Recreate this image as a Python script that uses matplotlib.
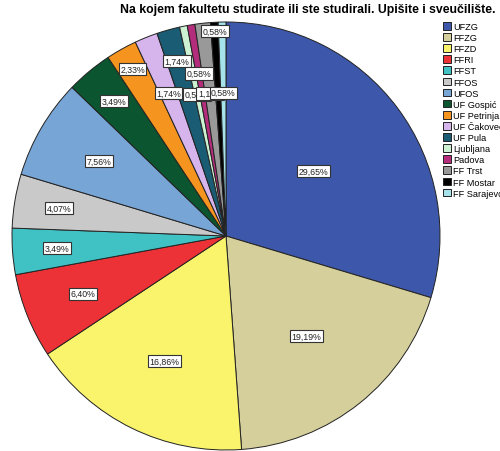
import numpy as np
import matplotlib
matplotlib.use("Agg")
import matplotlib.pyplot as plt

plt.rcParams['font.family'] = ['Liberation Sans', 'DejaVu Sans']

title = "Na kojem fakultetu studirate ili ste studirali. Upišite i sveučilište."
categories = ["UFZG", "FFZG", "FFZD", "FFRI", "FFST", "FFOS", "UFOS",
              "UF Gospić", "UF Petrinja", "UF Čakovec", "UF Pula",
              "Ljubljana", "Padova", "FF Trst", "FF Mostar", "FF Sarajevo"]
percents = [29.65, 19.19, 16.86, 6.40, 3.49, 4.07, 7.56,
            3.49, 2.33, 1.74, 1.74,
            0.58, 0.58, 1.16, 0.58, 0.58]

colors = ["#3D57AA", "#D5CF9C", "#F9F46C", "#EC3237", "#40C2C4", "#C9C9C9",
          "#77A5D6", "#0B5530", "#F5941F", "#D6B4EC", "#1A5C73",
          "#CDF2D3", "#B42D7C", "#999999", "#000000", "#A6E2EA"]
# label radius (fraction of pie radius) per slice - styling only
label_r = [0.51, 0.60, 0.65, 0.72, 0.79, 0.79, 0.69,
           0.82, 0.895, 0.72, 0.85,
           0.675, 0.77, 0.67, 0.96, 0.67]

W, H = 500, 452
fig = plt.figure(figsize=(W / 100, H / 100), dpi=100)
cx, cy, R = 226, 237, 214
ax = fig.add_axes([(cx - R) / W, 1 - (cy + R) / H, 2 * R / W, 2 * R / H])
wedges, _ = ax.pie(percents, colors=colors, startangle=90, counterclock=False,
                   radius=1.0,
                   wedgeprops=dict(edgecolor="#222222", linewidth=0.7))
ax.set_xlim(-1, 1)
ax.set_ylim(-1, 1)
ax.set_aspect("equal")
ax.axis("off")

for w, p, r in zip(wedges, percents, label_r):
    ang = np.deg2rad((w.theta1 + w.theta2) / 2)
    x, y = r * np.cos(ang), r * np.sin(ang)
    ax.text(x, y, f"{p:.2f}%".replace(".", ","), ha="center", va="center",
            fontsize=6.3, color="#222222",
            bbox=dict(boxstyle="square,pad=0.18", facecolor="white",
                      edgecolor="#333333", linewidth=0.8))

fig.text(308 / W, 1 - 10 / H, title, ha="center", va="center",
         fontsize=8.8, fontweight="bold")

leg = fig.legend(wedges, categories, loc="upper left",
                 bbox_to_anchor=(443 / W, 1 - 23 / H), frameon=False,
                 fontsize=6.6, handlelength=0.9, handleheight=0.9,
                 handletextpad=0.2, labelspacing=0.23, borderpad=0,
                 borderaxespad=0)

fig.savefig("out.png", dpi=100)
